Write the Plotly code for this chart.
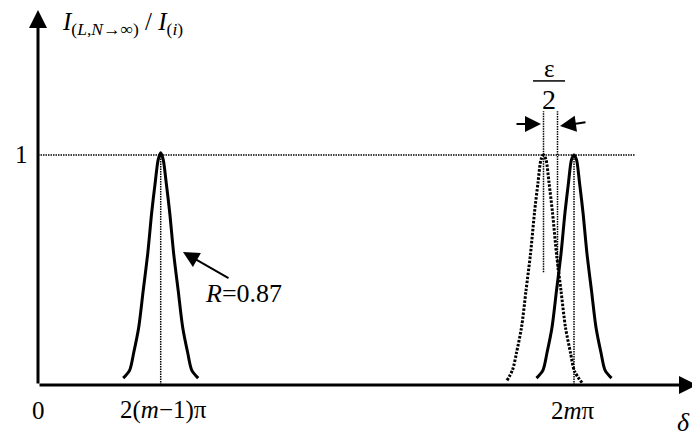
import plotly.graph_objects as go

# Peak profiles (delta in arbitrary units, intensity normalised)
peak1_x = [0.852, 0.917, 0.957, 1.007, 1.052, 1.097, 1.137, 1.172, 1.202, 1.227,
           1.252, 1.282, 1.317, 1.357, 1.402, 1.447, 1.497, 1.537, 1.602]
peak1_y = [0.03, 0.065, 0.14, 0.25, 0.41, 0.57, 0.75, 0.88, 0.98, 1.01,
           0.98, 0.88, 0.75, 0.57, 0.41, 0.25, 0.14, 0.065, 0.03]

peak2_x = [4.985, 5.05, 5.09, 5.14, 5.185, 5.23, 5.27, 5.305, 5.335, 5.36,
           5.385, 5.415, 5.45, 5.49, 5.535, 5.58, 5.63, 5.67, 5.735]
peak2_y = [0.03, 0.065, 0.14, 0.25, 0.41, 0.57, 0.75, 0.88, 0.98, 1.0,
           0.98, 0.88, 0.75, 0.57, 0.41, 0.25, 0.14, 0.065, 0.03]

shifted_x = [4.69, 4.745, 4.785, 4.835, 4.88, 4.925, 4.965, 5.0, 5.03, 5.055,
             5.08, 5.11, 5.145, 5.185, 5.23, 5.275, 5.325, 5.365, 5.44]
shifted_y = [0.02, 0.065, 0.14, 0.25, 0.41, 0.57, 0.75, 0.88, 0.98, 1.0,
             0.98, 0.88, 0.75, 0.57, 0.41, 0.25, 0.14, 0.06, 0.01]

# tick positions / labels on the delta axis
tick_x = [0, 1.25, 5.35]
tick_labels = ["0", "2(<i>m</i>\u22121)\u03c0", "2<i>m</i>\u03c0"]

font = "Liberation Serif"
black = "black"

fig = go.Figure()

fig.add_trace(go.Scatter(x=peak1_x, y=peak1_y, mode="lines",
                         line=dict(color=black, width=3, shape="spline", smoothing=0.8)))
fig.add_trace(go.Scatter(x=peak2_x, y=peak2_y, mode="lines",
                         line=dict(color=black, width=3, shape="spline", smoothing=0.8)))
fig.add_trace(go.Scatter(x=shifted_x, y=shifted_y, mode="lines",
                         line=dict(color=black, width=3, dash="2.5px,1.5px",
                                   shape="spline", smoothing=0.8)))

thin_dot = dict(color=black, width=1.5, dash="1.5px,1px")
# level 1 guide and peak markers
fig.add_shape(type="line", x0=0, x1=5.97, y0=1, y1=1, line=thin_dot)
fig.add_shape(type="line", x0=1.227, x1=1.227, y0=0, y1=1, line=thin_dot)
fig.add_shape(type="line", x0=5.36, x1=5.36, y0=0, y1=1, line=thin_dot)
fig.add_shape(type="line", x0=5.055, x1=5.055, y0=0.49, y1=1.19, line=thin_dot)
fig.add_shape(type="line", x0=5.195, x1=5.195, y0=0.5, y1=1.19, line=thin_dot)
# fraction bar of epsilon/2
fig.add_shape(type="line", x0=4.95, x1=5.27, y0=1.322, y1=1.322,
              line=dict(color=black, width=1.5))

def arrow(x, y, ax, ay, width, size=1):
    fig.add_annotation(x=x, y=y, ax=ax, ay=ay, xref="x", yref="y",
                       axref="x", ayref="y", text="", showarrow=True,
                       arrowhead=2, arrowsize=size, arrowwidth=width,
                       arrowcolor=black)

# axes with arrow heads
arrow(0, 1.63, 0, 0, 3, 1.2)
arrow(6.59, 0, 0, 0, 3, 1.2)
# R arrow and epsilon arrows
arrow(1.45, 0.578, 1.92, 0.461, 2, 1.6)
arrow(5.03, 1.135, 4.77, 1.135, 2, 1.6)
arrow(5.22, 1.126, 5.49, 1.143, 2, 1.6)

def label(x, y, text, size=25, xanchor="center", xref="x", yref="y"):
    fig.add_annotation(x=x, y=y, xref=xref, yref=yref, text=text, showarrow=False,
                       xanchor=xanchor, yanchor="middle",
                       font=dict(family=font, size=size, color=black))

# labels under the axis sit outside the data range, so they use paper y
for tx, tl in zip(tick_x, tick_labels):
    label(tx, -0.039, tl, yref="paper")
label(6.45, -0.072, "<i>\u03b4</i>", size=26, yref="paper")
label(-0.009, 1.0, "1", xref="paper")
label(0.22, 1.572, "<i>I</i><sub>(<i>L</i>,<i>N</i>\u2192\u221e)</sub> / <i>I</i><sub>(<i>i</i>)</sub>",
      size=25, xanchor="left")
label(2.05, 0.396, "<i>R</i>=0.87", size=26)
label(5.11, 1.378, "\u03b5", size=25)
label(5.11, 1.243, "2", size=28)

fig.update_layout(
    width=700, height=438,
    margin=dict(l=20, r=8, t=0, b=51),
    paper_bgcolor="white", plot_bgcolor="white",
    showlegend=False,
    xaxis=dict(range=[-0.1, 6.62], visible=False),
    yaxis=dict(range=[-0.0435, 1.6391], visible=False),
)

fig.write_html("out.html")
